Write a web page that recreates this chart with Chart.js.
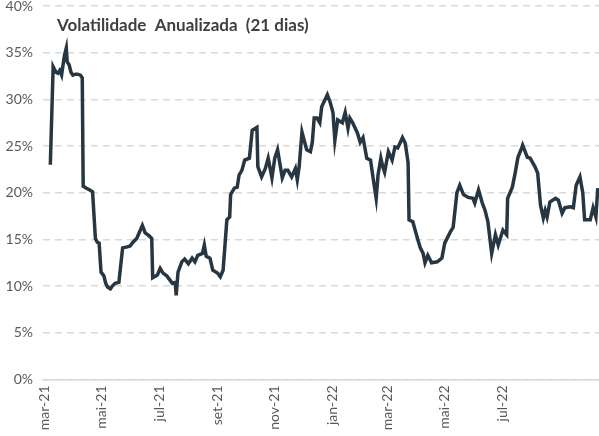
<!DOCTYPE html>
<html>
<head>
<meta charset="utf-8">
<script src="https://cdn.jsdelivr.net/npm/chart.js@4"></script>
<style>
html,body{margin:0;padding:0;background:#fff;}
canvas{display:block;}
</style>
</head>
<body>
<canvas id="chartVol" width="599" height="436"></canvas>
<script>
// volatilidade anualizada (21 dias), em %
const dates = [
"2021-03-07","2021-03-10","2021-03-13","2021-03-15","2021-03-17","2021-03-19","2021-03-22","2021-03-24","2021-03-25","2021-03-27",
"2021-03-29","2021-03-31","2021-04-03","2021-04-05","2021-04-08","2021-04-10","2021-04-11","2021-04-14","2021-04-18","2021-04-21",
"2021-04-24","2021-04-26","2021-04-28","2021-04-30","2021-05-03","2021-05-05","2021-05-07","2021-05-10","2021-05-12","2021-05-15",
"2021-05-19","2021-05-23","2021-05-28","2021-05-31","2021-06-03","2021-06-07","2021-06-10","2021-06-13","2021-06-16","2021-06-20",
"2021-06-23","2021-06-24","2021-06-29","2021-07-02","2021-07-05","2021-07-09","2021-07-12","2021-07-15","2021-07-18","2021-07-19",
"2021-07-21","2021-07-25","2021-07-28","2021-08-01","2021-08-05","2021-08-08","2021-08-11","2021-08-16","2021-08-18","2021-08-20",
"2021-08-24","2021-08-27","2021-09-01","2021-09-04","2021-09-07","2021-09-11","2021-09-14","2021-09-15","2021-09-19","2021-09-22",
"2021-09-24","2021-09-27","2021-09-30","2021-10-05","2021-10-08","2021-10-13","2021-10-14","2021-10-18","2021-10-22","2021-10-25",
"2021-10-29","2021-11-01","2021-11-04","2021-11-09","2021-11-12","2021-11-15","2021-11-19","2021-11-23","2021-11-25","2021-11-27",
"2021-11-30","2021-12-05","2021-12-09","2021-12-11","2021-12-13","2021-12-16","2021-12-19","2021-12-21","2021-12-27","2021-12-30",
"2022-01-02","2022-01-04","2022-01-07","2022-01-12","2022-01-15","2022-01-18","2022-01-20","2022-01-23","2022-01-28","2022-01-31",
"2022-02-03","2022-02-07","2022-02-11","2022-02-14","2022-02-17","2022-02-19","2022-02-22","2022-02-24","2022-02-26","2022-03-02",
"2022-03-06","2022-03-09","2022-03-12","2022-03-17","2022-03-20","2022-03-23","2022-03-24","2022-03-28","2022-04-02","2022-04-05",
"2022-04-08","2022-04-10","2022-04-13","2022-04-17","2022-04-23","2022-04-28","2022-05-01","2022-05-07","2022-05-10","2022-05-14",
"2022-05-17","2022-05-21","2022-05-26","2022-05-31","2022-06-02","2022-06-06","2022-06-10","2022-06-13","2022-06-16","2022-06-20",
"2022-06-24","2022-06-27","2022-07-02","2022-07-06","2022-07-07","2022-07-12","2022-07-15","2022-07-18","2022-07-22","2022-07-23",
"2022-07-28","2022-07-31","2022-08-05","2022-08-08","2022-08-11","2022-08-14","2022-08-16","2022-08-18","2022-08-21","2022-08-27",
"2022-08-30","2022-09-03","2022-09-06","2022-09-12","2022-09-15","2022-09-18","2022-09-22","2022-09-25","2022-09-27","2022-10-03",
"2022-10-06","2022-10-09","2022-10-11"
];

const volatility = [
23.0,33.5,32.9,32.8,33.1,32.6,34.7,35.5,34.0,33.7,
32.9,32.6,32.7,32.7,32.6,32.3,20.7,20.5,20.3,20.1,
15.1,14.7,14.6,11.5,11.1,10.3,9.9,9.7,10.0,10.3,
10.4,14.1,14.2,14.3,14.7,15.1,15.8,16.5,15.7,15.4,
15.1,10.9,11.2,11.9,11.4,11.1,10.7,10.3,10.4,9.0,
11.5,12.6,12.9,12.4,13.0,12.6,13.3,13.5,14.4,13.2,
13.0,11.7,11.4,11.0,11.7,17.1,17.4,19.8,20.5,20.6,
21.9,22.4,23.5,23.7,26.7,27.0,22.8,21.7,22.6,23.7,
21.6,23.7,24.6,21.6,22.4,22.4,21.7,22.6,21.4,22.8,
26.5,24.6,24.4,25.4,28.0,28.0,27.5,29.2,30.5,29.7,
28.6,25.6,27.8,27.5,28.6,26.9,28.0,27.5,26.4,25.4,
25.9,23.7,23.5,21.4,19.4,21.9,23.7,22.8,22.2,24.4,
23.5,24.9,24.8,25.9,25.3,23.2,17.1,16.9,15.1,14.1,
13.5,12.5,13.3,12.5,12.6,13.0,14.6,15.8,16.3,20.0,
20.8,19.8,19.5,19.4,18.9,20.3,18.9,18.1,16.9,13.5,
15.5,14.4,16.0,15.5,19.4,20.6,22.1,23.8,24.8,25.1,
23.8,23.7,22.8,22.1,18.7,17.3,18.1,17.4,19.0,19.4,
19.2,17.8,18.4,18.5,18.4,20.8,21.7,20.0,17.1,17.1,
18.4,17.4,20.5
];

const tickDates = ["2021-03-01","2021-05-01","2021-07-01","2021-09-01","2021-11-01","2022-01-01","2022-03-01","2022-05-01","2022-07-01"];
const tickLabels = ["mar-21","mai-21","jul-21","set-21","nov-21","jan-22","mar-22","mai-22","jul-22"];

const titleText = "Volatilidade  Anualizada  (21 dias)";

const day0 = Date.parse("2021-03-01");
function toDay(s){ return (Date.parse(s) - day0) / 864e5; }

let points = dates.map((d,i)=>({x: toDay(d), y: volatility[i]}));

const titlePlugin = {
  id: "titleInside",
  afterDraw(chart){
    const ctx = chart.ctx;
    ctx.save();
    ctx.font = "bold 17px Lato";
    ctx.fillStyle = "#404040";
    ctx.textBaseline = "alphabetic";
    ctx.fillText(titleText, chart.chartArea.left + 14, 31);
    ctx.restore();
  }
};

new Chart(document.getElementById("chartVol"), {
  type: "line",
  data: {
    datasets: [{
      data: points,
      borderColor: "#263642",
      borderWidth: 3.5,
      pointRadius: 0,
      tension: 0,
      fill: false
    }]
  },
  options: {
    responsive: false,
    animation: false,
    layout: { padding: { top: 6, right: 0, left: 0, bottom: 0 } },
    plugins: { legend: { display: false }, tooltip: { enabled: false } },
    scales: {
      x: {
        type: "linear",
        min: -1.8,
        max: 590.3,
        afterBuildTicks: axis => { axis.ticks = tickDates.map(d => ({ value: toDay(d) })); },
        afterFit: axis => { axis.height = 56.5; axis.paddingLeft = 0; axis.paddingRight = 0; },
        grid: { display: false, drawTicks: false },
        border: { display: true, color: "#d9d9d9", width: 1.5 },
        ticks: {
          autoSkip: false,
          minRotation: 90,
          maxRotation: 90,
          padding: 6,
          color: "#595959",
          font: { family: "Lato", size: 14 },
          callback: (v, i) => tickLabels[i]
        }
      },
      y: {
        min: 0,
        max: 40,
        afterFit: axis => { axis.width = 43; axis.paddingTop = 0; axis.paddingBottom = 0; },
        grid: { color: "#d9d9d9", lineWidth: 1.5, drawTicks: false },
        border: { display: false, dash: [7, 5] },
        ticks: {
          stepSize: 5,
          autoSkip: false,
          padding: 10,
          color: "#595959",
          font: { family: "Lato", size: 14 },
          callback: v => v + "%"
        }
      }
    }
  },
  plugins: [titlePlugin]
});
</script>
</body>
</html>
